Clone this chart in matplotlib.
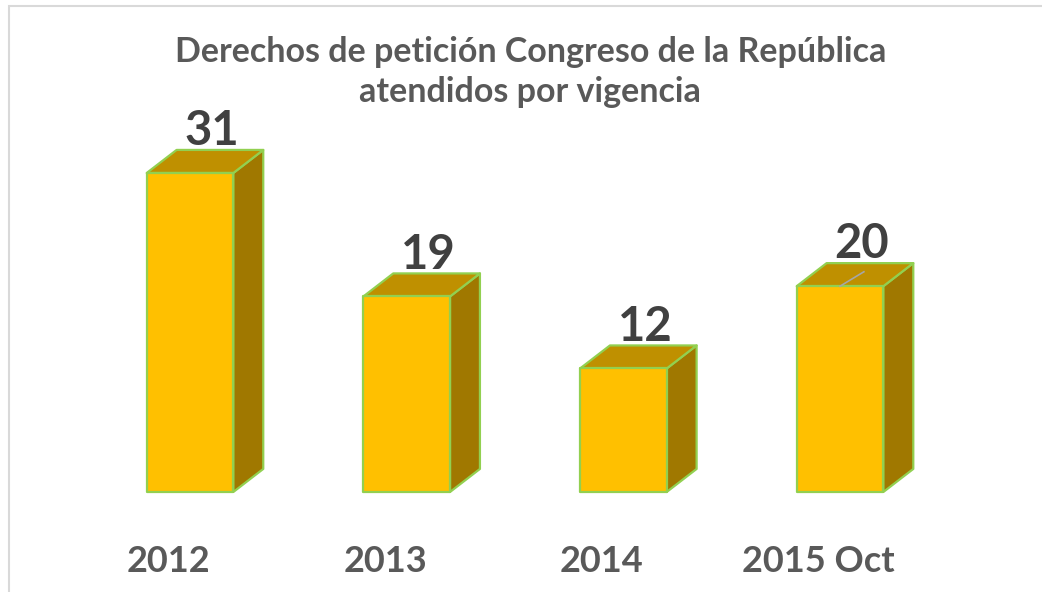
import matplotlib
matplotlib.use("Agg")
import matplotlib.pyplot as plt
from matplotlib.patches import Polygon, Rectangle

plt.rcParams['font.family'] = ['Lato', 'DejaVu Sans']

# data
categories = ['2012', '2013', '2014', '2015 Oct']
values = [31, 19, 12, 20]
title = 'Derechos de petición Congreso de la República\natendidos por vigencia'

FRONT = '#FFC000'
TOP = '#BF9000'
SIDE = '#A07800'
EDGE = '#92D050'

fig = plt.figure(figsize=(10.42, 5.92), dpi=100)
ax = fig.add_axes([0, 0, 1, 1])
ax.set_xlim(-0.877, 3.932)
ax.set_ylim(-9.72, 47.81)
ax.axis('off')

# frame around the chart area
fig.patches.append(Rectangle((9 / 1042, -0.1), 1.2, 1.1 - 6 / 592,
                             transform=fig.transFigure, fill=False,
                             edgecolor='#D9D9D9', lw=1.5))

w = 0.40       # bar width (category units)
dx = 0.138     # depth offset in x
dy = 2.24      # depth offset in y (value units)

for i, v in enumerate(values):
    x0, x1 = i - w / 2, i + w / 2
    side = [(x1, 0), (x1 + dx, dy), (x1 + dx, v + dy), (x1, v)]
    top = [(x0, v), (x0 + dx, v + dy), (x1 + dx, v + dy), (x1, v)]
    front = [(x0, 0), (x1, 0), (x1, v), (x0, v)]
    for pts, c in [(side, SIDE), (top, TOP), (front, FRONT)]:
        ax.add_patch(Polygon(pts, closed=True, facecolor=c, edgecolor=EDGE,
                             lw=1.6, joinstyle='round'))
    ax.text(i + 0.1, v + dy + 0.45, str(v), ha='center', va='baseline',
            fontsize=34, fontweight='bold', color='#404040')
    ax.text(i - 0.1, -6.8, categories[i], ha='center', va='center',
            fontsize=26, fontweight='bold', color='#595959')

# leader line on the last bar
ax.plot([3 + 0.0, 3 + 0.11], [values[3], values[3] + 1.4],
        color='#A6A6A6', lw=1.2)

fig.text(0.509, 0.878, title, ha='center', va='center', fontsize=24.5,
         fontweight='bold', color='#595959', linespacing=1.3)

fig.savefig('out.png', dpi=100)
